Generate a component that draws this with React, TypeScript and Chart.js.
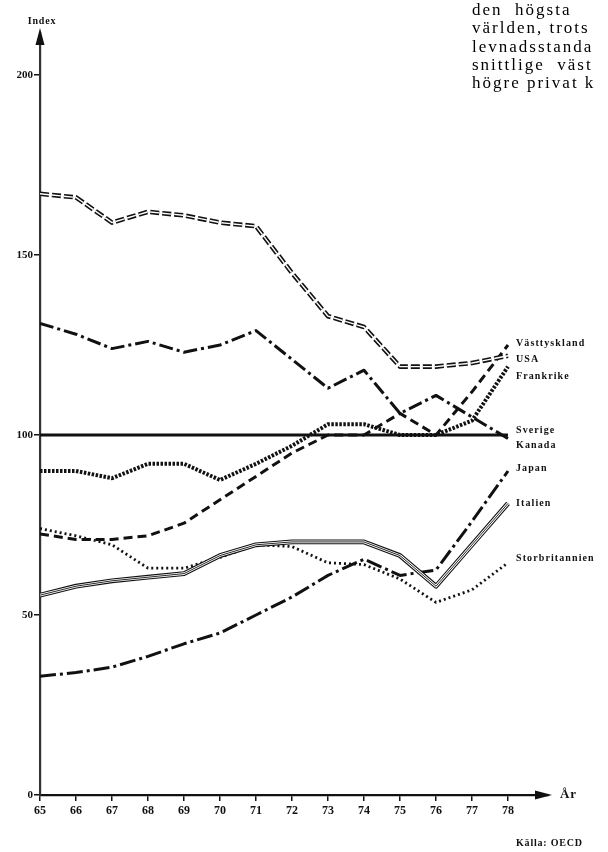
import React, { useEffect, useRef } from "react";
import { Chart, registerables } from "chart.js";

Chart.register(...registerables);

// ---- data ----
const years = [65, 66, 67, 68, 69, 70, 71, 72, 73, 74, 75, 76, 77, 78];
const yTickValues = [0, 50, 100, 150, 200];
const usa = [167, 166, 159, 162, 161, 159, 158, 145, 133, 130, 119, 119, 120, 122];
const kanada = [131, 128, 124, 126, 123, 125, 129, 121, 113, 118, 106, 111, 105, 99];
const vasttyskland = [72.5, 71, 71, 72, 75.5, 82, 88.5, 95, 100, 100, 106, 100, 112, 125];
const frankrike = [90, 90, 88, 92, 92, 87.5, 92, 97, 103, 103, 100, 100, 104, 119];
const sverige = [100, 100, 100, 100, 100, 100, 100, 100, 100, 100, 100, 100, 100, 100];
const japan = [33, 34, 35.5, 38.5, 42, 45, 50, 55, 61, 65.5, 61, 62.5, 76, 90];
const italien = [55.5, 58, 59.5, 60.5, 61.5, 66.5, 69.5, 70.3, 70.3, 70.3, 66.5, 58, 69.5, 81];
const storbritannien = [74, 72, 69.5, 63, 63, 66, 69.5, 69, 64.5, 64, 60, 53.5, 57, 64.5];

const seriesLabels = [
  { name: "Västtyskland", values: vasttyskland, dy: -2 },
  { name: "USA", values: usa, dy: 4 },
  { name: "Frankrike", values: frankrike, dy: 10 },
  { name: "Sverige", values: sverige, dy: -5 },
  { name: "Kanada", values: kanada, dy: 7 },
  { name: "Japan", values: japan, dy: -3 },
  { name: "Italien", values: italien, dy: 0 },
  { name: "Storbritannien", values: storbritannien, dy: -4 },
];

const paragraph = ["den  högsta", "världen, trots", "levnadsstanda", "snittlige  väst", "högre privat k"];

const pts = (vals: number[]) => years.map((x, i) => ({ x, y: vals[i] }));

const INK = "#111";
const SERIF = "'Liberation Serif', 'Times New Roman', serif";

const base = { pointRadius: 0, tension: 0, fill: false, borderJoinStyle: "round" as const };

const decorPlugin = {
  id: "decor",
  afterDraw(chart: any) {
    const { ctx, scales } = chart;
    const xs = scales.x;
    const ys = scales.y;
    const left = chart.chartArea.left;
    const bottom = chart.chartArea.bottom;
    const top = chart.chartArea.top;
    const right = chart.chartArea.right;
    ctx.save();
    ctx.fillStyle = INK;
    // y arrow
    ctx.beginPath();
    ctx.moveTo(left, top - 5);
    ctx.lineTo(left - 4.5, top + 12);
    ctx.lineTo(left + 4.5, top + 12);
    ctx.closePath();
    ctx.fill();
    // x arrow
    ctx.beginPath();
    ctx.moveTo(right + 4, bottom);
    ctx.lineTo(right - 13, bottom - 4.5);
    ctx.lineTo(right - 13, bottom + 4.5);
    ctx.closePath();
    ctx.fill();

    ctx.textBaseline = "middle";
    (ctx as any).letterSpacing = "0.8px";
    ctx.font = `bold 10px ${SERIF}`;
    ctx.textAlign = "center";
    ctx.fillText("Index", left + 2, top - 12);
    ctx.textAlign = "left";
    ctx.font = `bold 13px ${SERIF}`;
    ctx.fillText("År", right + 12, bottom);
    ctx.font = `bold 10px ${SERIF}`;
    ctx.fillText("Källa: OECD", 516, 843);

    (ctx as any).letterSpacing = "1.1px";
    ctx.font = `bold 10px ${SERIF}`;
    const lastX = xs.getPixelForValue(years[years.length - 1]);
    seriesLabels.forEach((s) => {
      const y = ys.getPixelForValue(s.values[s.values.length - 1]) + s.dy;
      ctx.fillText(s.name, lastX + 8, y);
    });
    ctx.restore();
  },
};

export default function App() {
  const ref = useRef<HTMLCanvasElement | null>(null);
  useEffect(() => {
    if (!ref.current) return;
    const chart = new Chart(ref.current, {
      type: "line",
      data: {
        datasets: [
          { ...base, data: pts(usa), borderColor: "#fff", borderWidth: 1.4, borderDash: [9, 3], order: 0 },
          { ...base, data: pts(usa), borderColor: INK, borderWidth: 4.6, borderDash: [9, 3], order: 1 },
          { ...base, data: pts(italien), borderColor: INK, borderWidth: 0.9, order: 2 },
          { ...base, data: pts(italien), borderColor: "#fff", borderWidth: 2.6, order: 3 },
          { ...base, data: pts(italien), borderColor: INK, borderWidth: 4.8, order: 4 },
          { ...base, data: pts(sverige), borderColor: INK, borderWidth: 3.2, order: 5 },
          { ...base, data: pts(kanada), borderColor: INK, borderWidth: 3, borderDash: [14, 4, 3, 4], order: 6 },
          { ...base, data: pts(vasttyskland), borderColor: INK, borderWidth: 3, borderDash: [9, 5], order: 7 },
          { ...base, data: pts(frankrike), borderColor: INK, borderWidth: 4, borderDash: [2.5, 1.5], order: 8 },
          { ...base, data: pts(japan), borderColor: INK, borderWidth: 3, borderDash: [16, 4, 3, 4], order: 9 },
          { ...base, data: pts(storbritannien), borderColor: INK, borderWidth: 2.8, borderDash: [2, 3], order: 10 },
        ],
      },
      options: {
        responsive: false,
        maintainAspectRatio: false,
        animation: false,
        events: [],
        layout: { padding: { left: 0, top: 33, right: 60, bottom: 0 } },
        plugins: { legend: { display: false }, tooltip: { enabled: false }, title: { display: false } },
        scales: {
          x: {
            type: "linear",
            min: 65,
            max: 65 + 508 / 36,
            afterBuildTicks: (s: any) => {
              s.ticks = years.map((v) => ({ value: v }));
            },
            afterFit: (s: any) => {
              s.height = 57;
            },
            grid: { drawOnChartArea: false, drawTicks: true, tickLength: 6, color: INK, lineWidth: 1.5 },
            border: { display: true, color: INK, width: 2.2 },
            ticks: {
              color: INK,
              padding: 3,
              maxRotation: 0,
              autoSkip: false,
              font: { family: SERIF, size: 12, weight: "bold" },
              callback: (v: any) => String(v),
            },
          },
          y: {
            type: "linear",
            min: 0,
            max: (795 - 33) / 3.6,
            afterBuildTicks: (s: any) => {
              s.ticks = yTickValues.map((v) => ({ value: v }));
            },
            afterFit: (s: any) => {
              s.width = 40;
            },
            grid: { drawOnChartArea: false, drawTicks: true, tickLength: 6, color: INK, lineWidth: 1.5 },
            border: { display: true, color: "#333", width: 2.2 },
            ticks: {
              color: INK,
              padding: 1,
              autoSkip: false,
              font: { family: SERIF, size: 11, weight: "bold" },
              callback: (v: any) => String(v),
            },
          },
        },
      },
      plugins: [decorPlugin],
    } as any);
    return () => chart.destroy();
  }, []);

  return (
    <div style={{ position: "absolute", left: 0, top: 0, width: 608, height: 852, overflow: "hidden", background: "#fff" }}>
      <canvas ref={ref} width={608} height={852} style={{ position: "absolute", left: 0, top: 0, width: 608, height: 852 }} />
      <div
        style={{
          position: "absolute",
          left: 472,
          top: 1,
          fontFamily: SERIF,
          fontSize: 17,
          lineHeight: "18.3px",
          letterSpacing: "2px",
          whiteSpace: "pre",
          color: "#000",
        }}
      >
        {paragraph.map((l, i) => (
          <div key={i}>{l}</div>
        ))}
      </div>
    </div>
  );
}
